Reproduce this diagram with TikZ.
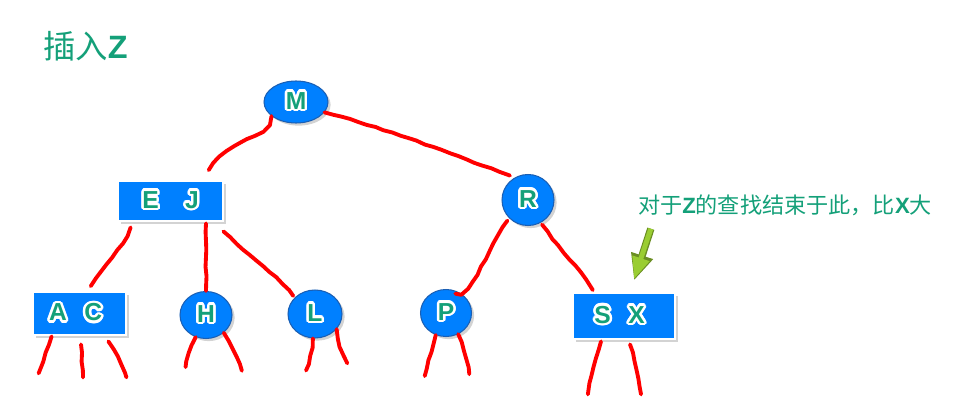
\documentclass[tikz,border=0pt]{standalone}
\usepackage{fontspec}
\setmainfont{Liberation Sans}
\newfontfamily\cjk{Noto Sans CJK SC}
\usepackage{contour}
\contourlength{1.4pt}
\usetikzlibrary{shapes.geometric,shadows,arrows.meta,calc,decorations.pathmorphing}
\definecolor{TreeBlue}{HTML}{0080FF}
\definecolor{TreeRim}{HTML}{1A5FB4}
\definecolor{KeyGreen}{HTML}{14A079}
\definecolor{EdgeRed}{HTML}{FF0000}
\definecolor{PointGreen}{HTML}{9ACD32}
\definecolor{PointRim}{HTML}{6B8E23}

\tikzset{
  keybox/.style={rectangle,fill=TreeBlue,draw=white,line width=1.6pt,inner sep=0pt,
    drop shadow={opacity=.35,shadow xshift=1.5pt,shadow yshift=-1.5pt}},
  keyball/.style={ellipse,fill=TreeBlue,draw=TreeRim,line width=.6pt,inner sep=0pt,
    drop shadow={opacity=.35,shadow xshift=1.5pt,shadow yshift=-1.5pt}},
  edge/.style={EdgeRed,line width=2.2pt,line cap=round,line join=round,
    decorate,decoration={random steps,segment length=5pt,amplitude=.35pt}},
}
\newcommand{\keytext}[1]{\fontsize{14}{16}\selectfont\contour{white}{\textcolor{KeyGreen}{\bfseries #1}}}

\begin{document}
\begin{tikzpicture}[x=0.02cm,y=0.02cm]
\pgfmathsetseed{11}
\path[use as bounding box] (0,0) rectangle (963,403);
% title
\node[anchor=west,text=KeyGreen] (title) at (37,357) {\fontsize{18.4}{22}\selectfont\cjk 插入{\normalfont\bfseries Z}};
% nodes of the tree
\node[keyball,minimum width=1.28cm,minimum height=0.84cm] (M) at (296,301) {\keytext{M}};
\node[keybox,minimum width=2.1cm,minimum height=0.8cm] (EJ) at (170.5,202) {\keytext{E\hspace{15pt}J}};
\node[keyball,minimum width=1.04cm,minimum height=1.02cm] (R) at (528,203) {\keytext{R}};
\node[keybox,minimum width=1.86cm,minimum height=0.86cm] (AC) at (79.5,89.5) {\keytext{A\hspace{10pt}C\hspace{4.5pt}}};
\node[keyball,minimum width=1.04cm,minimum height=0.94cm] (H) at (206,88) {\keytext{H}};
\node[keyball,minimum width=1.08cm,minimum height=0.96cm] (L) at (315,89) {\keytext{L}};
\node[keyball,minimum width=1.02cm,minimum height=0.94cm] (P) at (446,90) {\keytext{P}};
\node[keybox,minimum width=2.04cm,minimum height=0.92cm] (SX) at (624,87) {\keytext{S\hspace{10pt}X\hspace{5pt}}};
% note
\node[text=KeyGreen] (note) at (785,198) {\fontsize{12.6}{15}\selectfont\cjk 对于{\normalfont\bfseries Z}的查找结束于此，比{\normalfont\bfseries X}大};
\coordinate (tail) at ($(note.south west)+(19,-7)$);
\draw[PointRim,line width=4.2pt,-{Triangle[width=12pt,length=15pt]}] (tail) -- ($(SX.north)+(10,11)$);
\draw[PointGreen,line width=2.8pt,-{Triangle[width=9.5pt,length=12.5pt]}] (tail) -- ($(SX.north)+(10,12.5)$);
% edges
\draw[edge] (M.210) to[out=-100,in=30] ++(-30,-26) to[out=210,in=65] ($(EJ.north east)+(-15,9)$);
\draw[edge] (M.-20) to[out=-15,in=160] ($(R.125)+(-3,3)$);
\draw[edge] ($(EJ.south west)+(14,-5)$) .. controls +(-8,-22) and +(6,16) .. ($(AC.north)+(12,4)$);
\draw[edge] ($(EJ.south)+(35.5,-1)$) -- (H.north);
\draw[edge] ($(EJ.south east)+(-1,-9)$) .. controls +(30,-28) and +(-12,18) .. ($(L.140)+(-2,1)$);
\draw[edge] ($(R.225)+(-2,-2)$) .. controls +(-20,-30) and +(10,-15) .. ($(P.65)$);
\draw[edge] ($(R.-60)+(1,-2)$) .. controls +(22,-30) and +(-8,18) .. ($(SX.north)+(-32,1)$);
% leaves
\draw[edge] ($(AC.south west)+(20,0)$) -- ++(-13,-37);
\draw[edge] ($(AC.south)+(1.5,-8)$) -- ++(2,-33);
\draw[edge] ($(AC.south east)+(-19,-5)$) to[bend left=8] ++(18,-36);
\draw[edge] (H.245) to[bend right=10] ++(-10,-30);
\draw[edge] (H.-45) to[bend left=5] ++(18,-38);
\draw[edge] (L.265) to[bend left=8] ++(-7,-32);
\draw[edge] (L.-35) to[bend right=10] ++(11,-34);
\draw[edge] (P.245) -- ++(-11,-41);
\draw[edge] (P.-60) to[bend left=5] ++(11,-40);
\draw[edge] ($(SX.south)+(-23,-1)$) to[bend right=5] ++(-13,-53);
\draw[edge] ($(SX.south)+(6,-4)$) to[bend left=5] ++(11,-50);
\end{tikzpicture}
\end{document}
